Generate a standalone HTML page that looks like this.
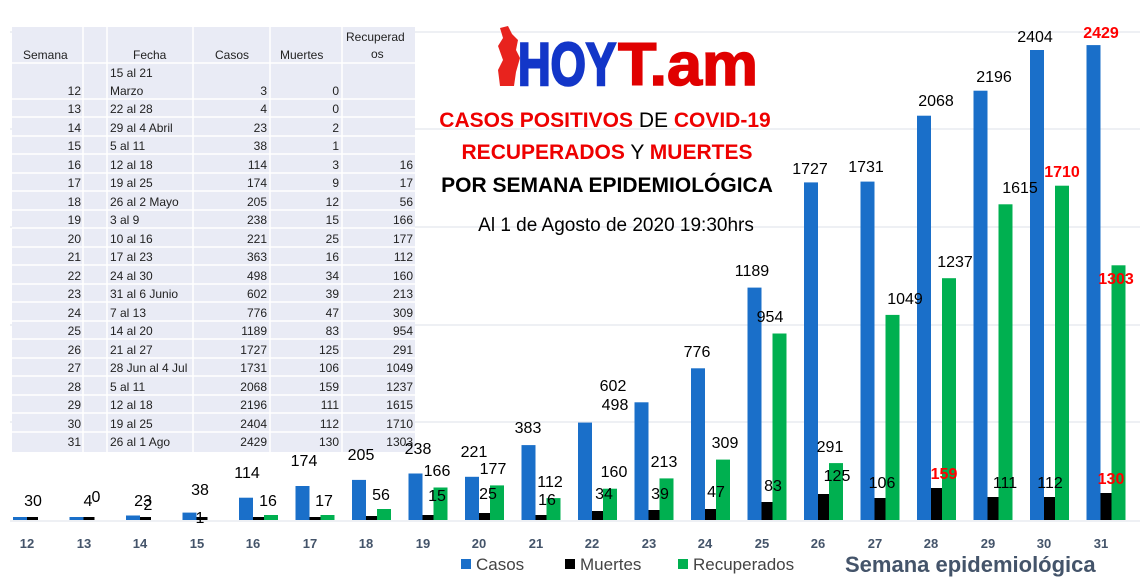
<!DOCTYPE html>
<html><head><meta charset="utf-8"><style>
body{margin:0;background:#fff;}
svg{display:block;font-family:"Liberation Sans",sans-serif;}
.t{font-size:12px;fill:#222;}
.v{font-size:16px;fill:#000;}
.r{font-size:16px;fill:#f00;font-weight:bold;}
.x{font-size:13px;font-weight:bold;fill:#44546a;}
</style></head><body>
<svg width="1148" height="586" viewBox="0 0 1148 586">
<g stroke="#dde1e8" stroke-width="1">
<line x1="10" y1="32" x2="1140" y2="32"/><line x1="10" y1="129" x2="1140" y2="129"/><line x1="10" y1="227" x2="1140" y2="227"/><line x1="10" y1="325" x2="1140" y2="325"/><line x1="10" y1="422" x2="1140" y2="422"/><line x1="10" y1="521" x2="1140" y2="521"/>
</g>
<!-- table -->
<rect x="12" y="27" width="403" height="425" fill="#e9ebf5"/>
<g stroke="#fff" stroke-width="1.5">
<line x1="83" y1="27" x2="83" y2="452"/><line x1="107" y1="27" x2="107" y2="452"/><line x1="193" y1="27" x2="193" y2="452"/><line x1="270" y1="27" x2="270" y2="452"/><line x1="342" y1="27" x2="342" y2="452"/>
<line x1="12" y1="63" x2="415" y2="63"/><line x1="12" y1="99" x2="415" y2="99"/><line x1="12" y1="117" x2="415" y2="117"/><line x1="12" y1="136" x2="415" y2="136"/><line x1="12" y1="154" x2="415" y2="154"/><line x1="12" y1="173" x2="415" y2="173"/><line x1="12" y1="191" x2="415" y2="191"/><line x1="12" y1="210" x2="415" y2="210"/><line x1="12" y1="228" x2="415" y2="228"/><line x1="12" y1="247" x2="415" y2="247"/><line x1="12" y1="265" x2="415" y2="265"/><line x1="12" y1="284" x2="415" y2="284"/><line x1="12" y1="302" x2="415" y2="302"/><line x1="12" y1="321" x2="415" y2="321"/><line x1="12" y1="339" x2="415" y2="339"/><line x1="12" y1="358" x2="415" y2="358"/><line x1="12" y1="376" x2="415" y2="376"/><line x1="12" y1="395" x2="415" y2="395"/><line x1="12" y1="413" x2="415" y2="413"/><line x1="12" y1="432" x2="415" y2="432"/>
</g>
<g class="t">
<text x="23" y="59">Semana</text><text x="133" y="59">Fecha</text><text x="215" y="59">Casos</text><text x="280" y="59">Muertes</text><text x="346" y="41">Recuperad</text><text x="371" y="58">os</text>
<text x="110" y="77">15  al 21</text><text x="110" y="95">Marzo</text>
</g>
<g class="t" text-anchor="end">
<text x="81" y="95">12</text><text x="267" y="95">3</text><text x="339" y="95">0</text>
<text x="81" y="113">13</text><text x="267" y="113">4</text><text x="339" y="113">0</text>
<text x="81" y="132">14</text><text x="267" y="132">23</text><text x="339" y="132">2</text>
<text x="81" y="150">15</text><text x="267" y="150">38</text><text x="339" y="150">1</text>
<text x="81" y="169">16</text><text x="267" y="169">114</text><text x="339" y="169">3</text><text x="413" y="169">16</text>
<text x="81" y="187">17</text><text x="267" y="187">174</text><text x="339" y="187">9</text><text x="413" y="187">17</text>
<text x="81" y="206">18</text><text x="267" y="206">205</text><text x="339" y="206">12</text><text x="413" y="206">56</text>
<text x="81" y="224">19</text><text x="267" y="224">238</text><text x="339" y="224">15</text><text x="413" y="224">166</text>
<text x="81" y="243">20</text><text x="267" y="243">221</text><text x="339" y="243">25</text><text x="413" y="243">177</text>
<text x="81" y="261">21</text><text x="267" y="261">363</text><text x="339" y="261">16</text><text x="413" y="261">112</text>
<text x="81" y="280">22</text><text x="267" y="280">498</text><text x="339" y="280">34</text><text x="413" y="280">160</text>
<text x="81" y="298">23</text><text x="267" y="298">602</text><text x="339" y="298">39</text><text x="413" y="298">213</text>
<text x="81" y="317">24</text><text x="267" y="317">776</text><text x="339" y="317">47</text><text x="413" y="317">309</text>
<text x="81" y="335">25</text><text x="267" y="335">1189</text><text x="339" y="335">83</text><text x="413" y="335">954</text>
<text x="81" y="354">26</text><text x="267" y="354">1727</text><text x="339" y="354">125</text><text x="413" y="354">291</text>
<text x="81" y="372">27</text><text x="267" y="372">1731</text><text x="339" y="372">106</text><text x="413" y="372">1049</text>
<text x="81" y="391">28</text><text x="267" y="391">2068</text><text x="339" y="391">159</text><text x="413" y="391">1237</text>
<text x="81" y="409">29</text><text x="267" y="409">2196</text><text x="339" y="409">111</text><text x="413" y="409">1615</text>
<text x="81" y="428">30</text><text x="267" y="428">2404</text><text x="339" y="428">112</text><text x="413" y="428">1710</text>
<text x="81" y="446">31</text><text x="267" y="446">2429</text><text x="339" y="446">130</text><text x="413" y="446">1303</text>
</g>
<g class="t">
<text x="110" y="113">22 al 28</text><text x="110" y="132">29 al 4 Abril</text><text x="110" y="150">5 al 11</text><text x="110" y="169">12 al 18</text><text x="110" y="187">19 al 25</text><text x="110" y="206">26 al 2 Mayo</text><text x="110" y="224">3 al 9</text><text x="110" y="243">10 al 16</text><text x="110" y="261">17 al 23</text><text x="110" y="280">24 al 30</text><text x="110" y="298">31 al 6 Junio</text><text x="110" y="317">7 al 13</text><text x="110" y="335">14 al 20</text><text x="110" y="354">21 al 27</text><text x="110" y="372">28 Jun al 4 Jul</text><text x="110" y="391">5 al 11</text><text x="110" y="409">12 al 18</text><text x="110" y="428">19 al 25</text><text x="110" y="446">26 al 1 Ago</text>
</g>
<!-- logo & title -->
<path d="M500 28 L508 26 L512 34 L518 40 L516 50 L520 58 L516 72 L514 86 L500 86 L498 70 L503 60 L498 46 L503 38 Z" fill="#e8231e"/>
<text x="518" y="85" font-family="Liberation Sans" font-size="60" font-weight="bold" fill="#1336c8" stroke="#1336c8" stroke-width="2.5" textLength="98" lengthAdjust="spacingAndGlyphs">HOY</text>
<text x="618" y="85" font-family="Liberation Sans" font-size="60" font-weight="bold" fill="#e00000" stroke="#e00000" stroke-width="1.5" textLength="140" lengthAdjust="spacingAndGlyphs">T.am</text>
<g font-size="21" font-weight="bold" text-anchor="middle">
<text x="605" y="127"><tspan fill="#e00">CASOS POSITIVOS</tspan><tspan fill="#000" font-weight="normal"> DE </tspan><tspan fill="#e00">COVID-19</tspan></text>
<text x="607" y="159"><tspan fill="#e00">RECUPERADOS</tspan><tspan fill="#000" font-weight="normal"> Y </tspan><tspan fill="#e00">MUERTES</tspan></text>
<text x="607" y="192" fill="#000">POR SEMANA EPIDEMIOLÓGICA</text>
</g>
<text x="616" y="231" font-size="19" text-anchor="middle" fill="#000">Al 1 de Agosto de 2020  19:30hrs</text>
<!-- bars -->
<g fill="#1a6fc9">
<rect x="13" y="517" width="14" height="3"/><rect x="69.5" y="517" width="14" height="3"/><rect x="126" y="515.5" width="14" height="4.5"/><rect x="182.5" y="512.6" width="14" height="7.4"/><rect x="239" y="497.7" width="14" height="22.3"/><rect x="295.5" y="486" width="14" height="34"/><rect x="352" y="479.9" width="14" height="40.1"/><rect x="408.5" y="473.5" width="14" height="46.5"/><rect x="465" y="476.8" width="14" height="43.2"/><rect x="521.5" y="445.1" width="14" height="74.9"/><rect x="578" y="422.6" width="14" height="97.4"/><rect x="634.5" y="402.3" width="14" height="117.7"/><rect x="691" y="368.3" width="14" height="151.7"/><rect x="747.5" y="287.6" width="14" height="232.4"/><rect x="804" y="182.4" width="14" height="337.6"/><rect x="860.5" y="181.6" width="14" height="338.4"/><rect x="917" y="115.7" width="14" height="404.3"/><rect x="973.5" y="90.7" width="14" height="429.3"/><rect x="1030" y="50" width="14" height="470"/><rect x="1086.5" y="45.1" width="14" height="474.9"/>
</g>
<g fill="#000">
<rect x="27" y="517" width="11" height="3"/><rect x="83.5" y="517" width="11" height="3"/><rect x="140" y="517" width="11" height="3"/><rect x="196.5" y="517" width="11" height="3"/><rect x="253" y="517" width="11" height="3"/><rect x="309.5" y="517" width="11" height="3"/><rect x="366" y="516" width="11" height="4"/><rect x="422.5" y="515" width="11" height="5"/><rect x="479" y="513" width="11" height="7"/><rect x="535.5" y="515" width="11" height="5"/><rect x="592" y="511" width="11" height="9"/><rect x="648.5" y="510" width="11" height="10"/><rect x="705" y="509" width="11" height="11"/><rect x="761.5" y="502" width="11" height="18"/><rect x="818" y="494" width="11" height="26"/><rect x="874.5" y="498" width="11" height="22"/><rect x="931" y="488" width="11" height="32"/><rect x="987.5" y="497" width="11" height="23"/><rect x="1044" y="497" width="11" height="23"/><rect x="1100.5" y="493" width="11" height="27"/>
</g>
<g fill="#00b050">
<rect x="264" y="515" width="14" height="5"/><rect x="320.5" y="515" width="14" height="5"/><rect x="377" y="509" width="14" height="11"/><rect x="433.5" y="487.5" width="14" height="32.5"/><rect x="490" y="485.4" width="14" height="34.6"/><rect x="546.5" y="498.1" width="14" height="21.9"/><rect x="603" y="488.7" width="14" height="31.3"/><rect x="659.5" y="478.4" width="14" height="41.6"/><rect x="716" y="459.6" width="14" height="60.4"/><rect x="772.5" y="333.5" width="14" height="186.5"/><rect x="829" y="463.1" width="14" height="56.9"/><rect x="885.5" y="314.9" width="14" height="205.1"/><rect x="942" y="278.2" width="14" height="241.8"/><rect x="998.5" y="204.3" width="14" height="315.7"/><rect x="1055" y="185.7" width="14" height="334.3"/><rect x="1111.5" y="265.3" width="14" height="254.7"/>
</g>
<!-- value labels -->
<g class="v" text-anchor="middle">
<text x="33" y="506">30</text><text x="88" y="506">4</text><text x="96" y="502">0</text><text x="143" y="506">23</text><text x="148" y="510">2</text><text x="200" y="523">1</text><text x="200" y="495">38</text>
<text x="247" y="478">114</text><text x="268" y="506">16</text><text x="304" y="466">174</text><text x="324" y="506">17</text><text x="361" y="460">205</text><text x="381" y="500">56</text><text x="418" y="454">238</text><text x="437" y="476">166</text><text x="437" y="501">15</text>
<text x="474" y="457">221</text><text x="493" y="474">177</text><text x="488" y="499">25</text><text x="528" y="433">383</text><text x="550" y="487">112</text><text x="547" y="505">16</text><text x="615" y="410">498</text><text x="614" y="477">160</text><text x="604" y="499">34</text><text x="613" y="391">602</text><text x="664" y="467">213</text><text x="660" y="499">39</text>
<text x="697" y="357">776</text><text x="725" y="448">309</text><text x="716" y="497">47</text><text x="752" y="276">1189</text><text x="770" y="322">954</text><text x="773" y="491">83</text><text x="810" y="174">1727</text><text x="830" y="452">291</text><text x="837" y="481">125</text><text x="866" y="172">1731</text><text x="905" y="304">1049</text><text x="882" y="488">106</text>
<text x="936" y="106">2068</text><text x="955" y="267">1237</text><text x="994" y="82">2196</text><text x="1020" y="193">1615</text><text x="1005" y="488">111</text><text x="1035" y="42">2404</text><text x="1050" y="488">112</text>
</g>
<g class="r" text-anchor="middle">
<text x="1101" y="38">2429</text><text x="1062" y="177">1710</text><text x="1116" y="284">1303</text><text x="944" y="479">159</text><text x="1111" y="484">130</text>
</g>
<!-- x labels -->
<g class="x" text-anchor="middle">
<text x="27" y="548">12</text><text x="84" y="548">13</text><text x="140" y="548">14</text><text x="197" y="548">15</text><text x="253" y="548">16</text><text x="310" y="548">17</text><text x="366" y="548">18</text><text x="423" y="548">19</text><text x="479" y="548">20</text><text x="536" y="548">21</text><text x="592" y="548">22</text><text x="649" y="548">23</text><text x="705" y="548">24</text><text x="762" y="548">25</text><text x="818" y="548">26</text><text x="875" y="548">27</text><text x="931" y="548">28</text><text x="988" y="548">29</text><text x="1044" y="548">30</text><text x="1101" y="548">31</text>
</g>
<!-- legend -->
<rect x="461" y="559" width="10" height="10" fill="#1a6fc9"/><text x="476" y="570" font-size="17" fill="#444">Casos</text>
<rect x="565" y="559" width="10" height="10" fill="#000"/><text x="580" y="570" font-size="17" fill="#444">Muertes</text>
<rect x="678" y="559" width="10" height="10" fill="#00b050"/><text x="693" y="570" font-size="17" fill="#444">Recuperados</text>
<text x="845" y="572" font-size="22" font-weight="bold" fill="#44546a">Semana epidemiológica</text>
</svg>
</body></html>
